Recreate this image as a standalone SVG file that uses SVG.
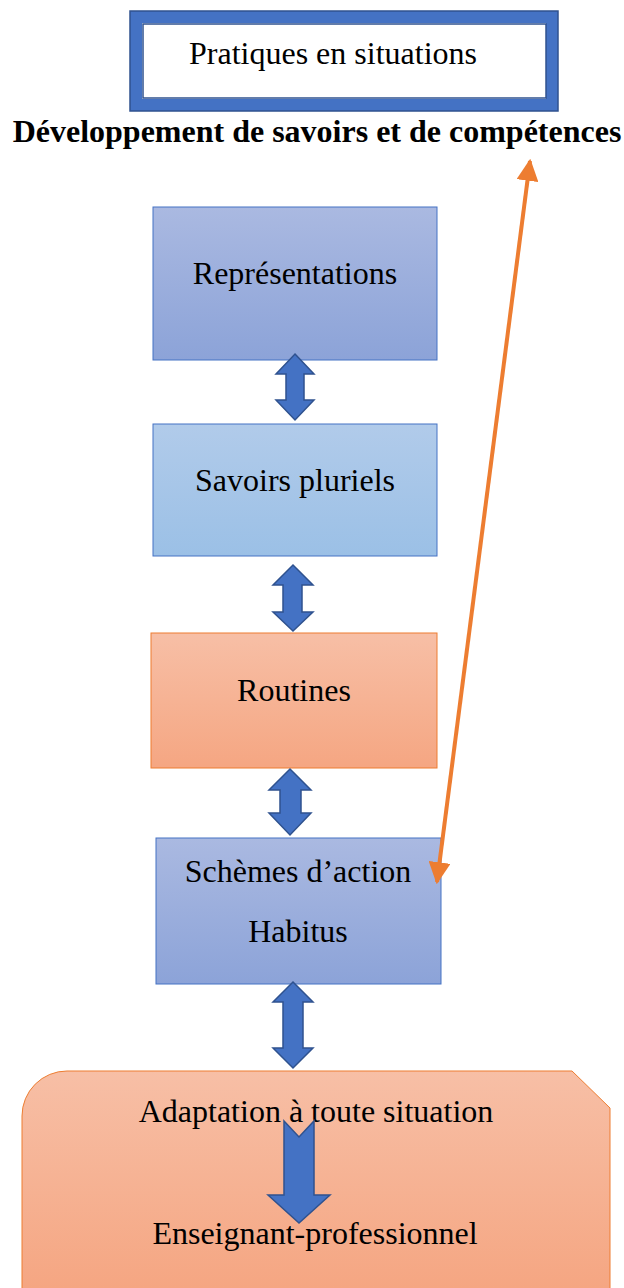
<svg xmlns="http://www.w3.org/2000/svg" width="624" height="1288" viewBox="0 0 624 1288">
<defs>
<linearGradient id="gBlue" x1="0" y1="0" x2="0" y2="1"><stop offset="0" stop-color="#AAB9E1"/><stop offset="1" stop-color="#8CA3D8"/></linearGradient>
<linearGradient id="gLight" x1="0" y1="0" x2="0" y2="1"><stop offset="0" stop-color="#B1CBEA"/><stop offset="1" stop-color="#9BC0E6"/></linearGradient>
<linearGradient id="gOrange" x1="0" y1="0" x2="0" y2="1"><stop offset="0" stop-color="#F7BFA6"/><stop offset="1" stop-color="#F5A682"/></linearGradient>
<marker id="oh" viewBox="0 0 10 10" refX="9" refY="5" markerWidth="5.5" markerHeight="5.5" orient="auto-start-reverse" markerUnits="strokeWidth"><path d="M0,0 L10,5 L0,10 Z" fill="#ED7D31"/></marker>
<style>
text{font-family:"Liberation Serif","Times New Roman",serif;fill:#000;font-size:32px;text-anchor:middle}
.bl{stroke:#4472C4;stroke-width:1}
.or{stroke:#ED7D31;stroke-width:1}
.da{fill:#4472C4;stroke:#2F528F;stroke-width:1.5;stroke-linejoin:miter}
</style>
</defs>
<g id="top">
<rect x="136" y="17" width="416" height="88" fill="none" stroke="#4472C4" stroke-width="12"/>
<rect x="130" y="11" width="428" height="100" fill="none" stroke="#2F528F" stroke-width="1.5"/>
<rect x="143" y="24" width="403" height="74" fill="#fff" stroke="#2F528F" stroke-width="1.5"/>
<text x="333" y="64">Pratiques en situations</text>
</g>
<g id="title"><text x="317" y="142" font-weight="bold">Développement de savoirs et de compétences</text></g>
<g id="representations">
<rect x="153" y="207" width="284" height="153" fill="url(#gBlue)" class="bl"/>
<text x="295" y="284">Représentations</text>
</g>
<g id="savoirs">
<rect x="153" y="424" width="284" height="132" fill="url(#gLight)" class="bl"/>
<text x="295" y="491">Savoirs pluriels</text>
</g>
<g id="routines">
<rect x="151" y="633" width="286" height="135" fill="url(#gOrange)" class="or"/>
<text x="294" y="701">Routines</text>
</g>
<g id="schemes">
<rect x="156" y="838" width="285" height="146" fill="url(#gBlue)" class="bl"/>
<text x="298" y="882">Schèmes d’action</text>
<text x="298" y="942">Habitus</text>
</g>
<g id="bottom">
<path d="M22,1288 L22,1116 A45,45 0 0 1 67,1071 L572,1071 L610,1108 L610,1288" fill="url(#gOrange)" class="or"/>
<text x="316" y="1122">Adaptation à toute situation</text>
<text x="315" y="1244">Enseignant-professionnel</text>
</g>
<g id="connectors">
<path class="da" d="M295,354 L314,374 L304,374 L304,400 L314,400 L295,420 L276,400 L286,400 L286,374 L276,374 Z"/>
<path class="da" d="M293,565 L313,585 L302,585 L302,612 L313,612 L293,631 L273,612 L283,612 L283,585 L273,585 Z"/>
<path class="da" d="M290,769 L311,790 L301,790 L301,813 L311,813 L290,835 L269,813 L280,813 L280,790 L269,790 Z"/>
<path class="da" d="M293,982 L313,1002 L303,1002 L303,1048 L313,1048 L293,1068 L273,1048 L283,1048 L283,1002 L273,1002 Z"/>
<path class="da" d="M284,1121 L299,1137 L314,1121 L314,1195 L330,1195 L299,1223 L268,1195 L284,1195 Z"/>
<line x1="437" y1="882" x2="530" y2="161" stroke="#ED7D31" stroke-width="4" marker-start="url(#oh)" marker-end="url(#oh)"/>
</g>
</svg>
